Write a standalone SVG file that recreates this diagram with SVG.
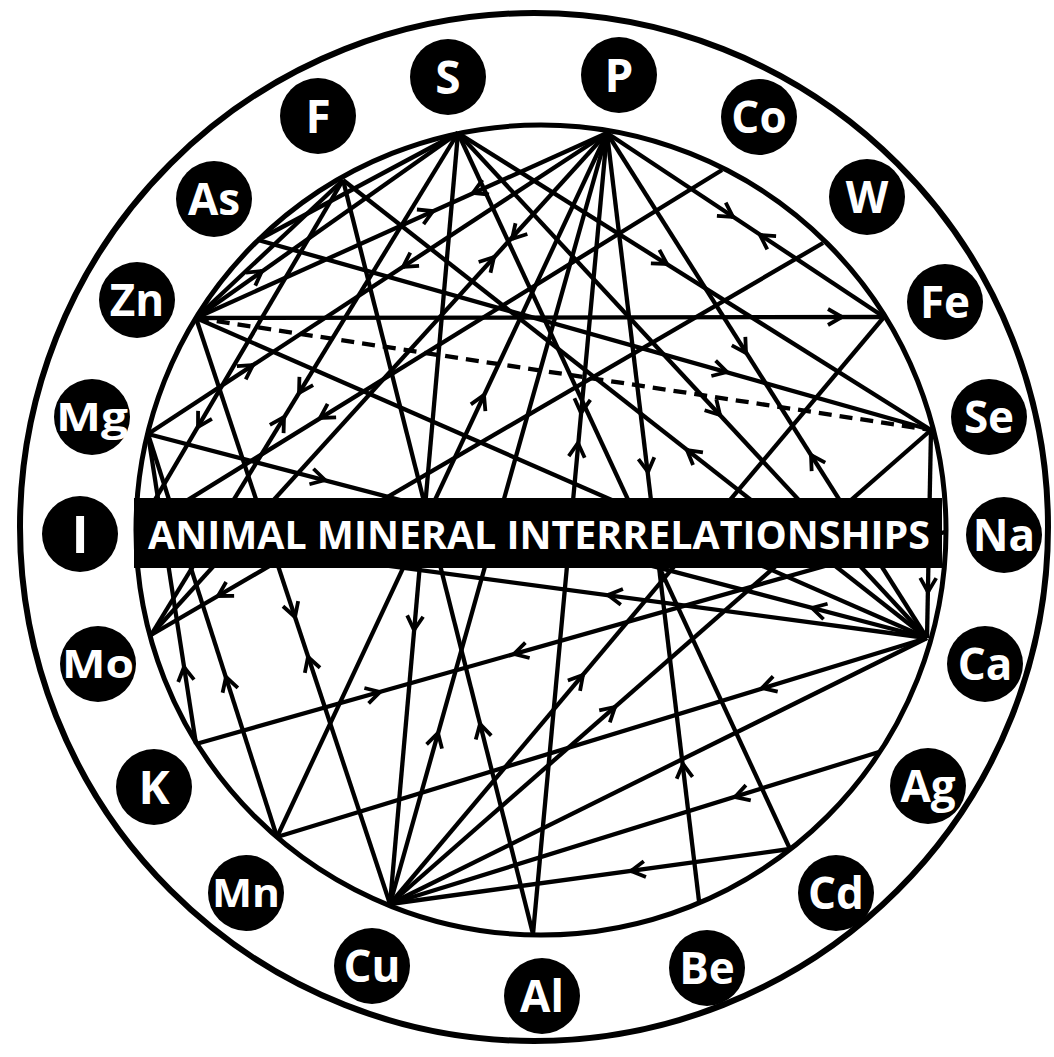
<svg xmlns="http://www.w3.org/2000/svg" width="1054" height="1057" viewBox="0 0 1054 1057">
<defs>
<style>
.ring{fill:none;stroke:#000}
.c line,.c path{stroke:#000;stroke-width:4.3;fill:none}
.c .dash{stroke-dasharray:13 8}
.c path{marker-end:url(#ah)}
.n circle{fill:#000}
.n text{fill:#fff;font-family:"Open Sans","Liberation Sans",sans-serif;font-weight:700;font-size:44px;text-anchor:middle}
.title{fill:#fff;font-family:"Open Sans","Liberation Sans",sans-serif;font-weight:700;font-size:39px;text-anchor:middle}
</style>
<marker id="ah" viewBox="-18 -12 22 24" markerWidth="22" markerHeight="24" markerUnits="userSpaceOnUse" orient="auto" refX="0" refY="0">
<path d="M-14,-8 L0,0 L-14,8" fill="none" stroke="#000" stroke-width="3.8"/>
</marker>
</defs>
<rect width="1054" height="1057" fill="#fff"/>
<circle class="ring" cx="534" cy="527" r="514" stroke-width="6"/>
<g id="connectors" class="c">
<line x1="196" y1="318" x2="884" y2="317"/>
<line class="dash" x1="196" y1="318" x2="931" y2="430"/>
<line x1="196" y1="318" x2="607" y2="133"/>
<line x1="196" y1="318" x2="458" y2="133"/>
<line x1="196" y1="318" x2="927" y2="638"/>
<line x1="196" y1="318" x2="390" y2="904"/>
<line x1="196" y1="318" x2="343" y2="180"/>
<line x1="458" y1="133" x2="931" y2="430"/>
<line x1="458" y1="133" x2="390" y2="904"/>
<line x1="458" y1="133" x2="790" y2="849"/>
<line x1="458" y1="133" x2="258" y2="240"/>
<line x1="458" y1="133" x2="151" y2="635"/>
<line x1="458" y1="133" x2="927" y2="638"/>
<line x1="343" y1="180" x2="533" y2="934"/>
<line x1="343" y1="180" x2="136" y2="532"/>
<line x1="343" y1="180" x2="927" y2="638"/>
<line x1="607" y1="133" x2="884" y2="317"/>
<line x1="607" y1="133" x2="533" y2="934"/>
<line x1="607" y1="133" x2="699" y2="901"/>
<line x1="607" y1="133" x2="927" y2="638"/>
<line x1="607" y1="133" x2="148" y2="434"/>
<line x1="607" y1="133" x2="277" y2="837"/>
<line x1="607" y1="133" x2="390" y2="904"/>
<line x1="607" y1="133" x2="151" y2="635"/>
<line x1="823" y1="243" x2="151" y2="635"/>
<line x1="148" y1="434" x2="277" y2="837"/>
<line x1="277" y1="837" x2="927" y2="638"/>
<line x1="196" y1="744" x2="945" y2="532"/>
<line x1="196" y1="744" x2="148" y2="434"/>
<line x1="390" y1="904" x2="884" y2="317"/>
<line x1="390" y1="904" x2="931" y2="430"/>
<line x1="390" y1="904" x2="879" y2="752"/>
<line x1="390" y1="904" x2="790" y2="849"/>
<line x1="390" y1="904" x2="927" y2="638"/>
<line x1="722" y1="170" x2="136" y2="532"/>
<line x1="148" y1="434" x2="927" y2="638"/>
<line x1="136" y1="532" x2="927" y2="638"/>
<line x1="258" y1="240" x2="931" y2="430"/>
<line x1="931" y1="430" x2="927" y2="638"/>
<path d="M836,317 L842,317"/>
<path d="M427.5,213.5 L433,211"/>
<path d="M478.5,190.5 L473,193"/>
<path d="M257.1,274.5 L262,271"/>
<path d="M293.1,611.3 L295,617"/>
<path d="M309.9,662.7 L308,657"/>
<path d="M661.9,260.8 L667,264"/>
<path d="M414.5,624 L414,630"/>
<path d="M302.1,387.9 L299,393"/>
<path d="M280.9,422.1 L284,417"/>
<path d="M715.9,410.6 L720,415"/>
<path d="M481.5,729.8 L480,724"/>
<path d="M201,421.8 L198,427"/>
<path d="M691.7,453.7 L687,450"/>
<path d="M728,213.7 L733,217"/>
<path d="M765,238.3 L760,235"/>
<path d="M581.6,407 L581,413"/>
<path d="M577.45,449 L578,443"/>
<path d="M647.3,466 L648,472"/>
<path d="M683.7,770 L683,764"/>
<path d="M742.8,347.9 L746,353"/>
<path d="M814.2,460.1 L811,455"/>
<path d="M248,368.3 L253,365"/>
<path d="M408,263.7 L403,267"/>
<path d="M481.5,400.4 L484,395"/>
<path d="M436.4,738.8 L438,733"/>
<path d="M490,261.4 L494,257"/>
<path d="M516,234.6 L512,239"/>
<path d="M223.2,593 L218,596"/>
<path d="M227.8,682.7 L226,677"/>
<path d="M767.7,686.3 L762,688"/>
<path d="M374.2,693.6 L380,692"/>
<path d="M519.8,652.4 L514,654"/>
<path d="M184.9,672.9 L184,667"/>
<path d="M579.1,679.6 L583,675"/>
<path d="M610.5,711 L615,707"/>
<path d="M740.7,795.2 L735,797"/>
<path d="M636.9,870.2 L631,871"/>
<path d="M325.1,414.8 L320,418"/>
<path d="M319.2,478.5 L325,480"/>
<path d="M817.8,609.5 L812,608"/>
<path d="M613.9,595.8 L608,595"/>
<path d="M721.2,370.4 L727,372"/>
<path d="M928.1,586 L928,592"/>
</g>
<g id="title">
<rect x="134" y="498" width="808" height="70" fill="#000"/>
<text class="title" x="539" y="549" textLength="782" lengthAdjust="spacingAndGlyphs">ANIMAL MINERAL INTERRELATIONSHIPS</text>
</g>
<circle class="ring" cx="541" cy="530" r="405" stroke-width="5"/>
<g id="node-F" class="n"><circle cx="318" cy="116" r="38"/><text x="318" y="133" style="font-size:46px">F</text></g>
<g id="node-As" class="n"><circle cx="214" cy="199" r="38"/><text x="214" y="215">As</text></g>
<g id="node-Zn" class="n"><circle cx="137" cy="300" r="38"/><text x="137" y="316">Zn</text></g>
<g id="node-S" class="n"><circle cx="448" cy="77" r="38"/><text x="448" y="94" style="font-size:46px">S</text></g>
<g id="node-P" class="n"><circle cx="619" cy="75" r="38"/><text x="619" y="92" style="font-size:46px">P</text></g>
<g id="node-Co" class="n"><circle cx="759" cy="117" r="38"/><text x="759" y="133">Co</text></g>
<g id="node-W" class="n"><circle cx="867" cy="197" r="38"/><text x="867" y="213">W</text></g>
<g id="node-Fe" class="n"><circle cx="945" cy="302" r="38"/><text x="945" y="318">Fe</text></g>
<g id="node-Se" class="n"><circle cx="989" cy="417" r="38"/><text x="989" y="433">Se</text></g>
<g id="node-Na" class="n"><circle cx="1004" cy="535" r="38"/><text x="1004" y="551">Na</text></g>
<g id="node-Ca" class="n"><circle cx="985" cy="664" r="38"/><text x="985" y="680">Ca</text></g>
<g id="node-Ag" class="n"><circle cx="928" cy="786" r="38"/><text x="928" y="802">Ag</text></g>
<g id="node-Cd" class="n"><circle cx="836" cy="893" r="38"/><text x="836" y="909">Cd</text></g>
<g id="node-Be" class="n"><circle cx="707" cy="968" r="38"/><text x="707" y="984">Be</text></g>
<g id="node-Al" class="n"><circle cx="542" cy="996" r="38"/><text x="542" y="1012">Al</text></g>
<g id="node-Cu" class="n"><circle cx="372" cy="966" r="38"/><text x="372" y="982">Cu</text></g>
<g id="node-Mn" class="n"><circle cx="246" cy="893" r="38"/><text x="246" y="907" style="font-size:39px" textLength="68" lengthAdjust="spacingAndGlyphs">Mn</text></g>
<g id="node-K" class="n"><circle cx="154" cy="787" r="38"/><text x="154" y="804" style="font-size:47px">K</text></g>
<g id="node-Mo" class="n"><circle cx="98" cy="664" r="38"/><text x="98" y="678" style="font-size:39px" textLength="72" lengthAdjust="spacingAndGlyphs">Mo</text></g>
<g id="node-I" class="n"><circle cx="80" cy="534" r="38"/><text x="80" y="553" style="font-size:52px">I</text></g>
<g id="node-Mg" class="n"><circle cx="92" cy="417" r="38"/><text x="92" y="431" style="font-size:39px" textLength="72" lengthAdjust="spacingAndGlyphs">Mg</text></g>
</svg>
